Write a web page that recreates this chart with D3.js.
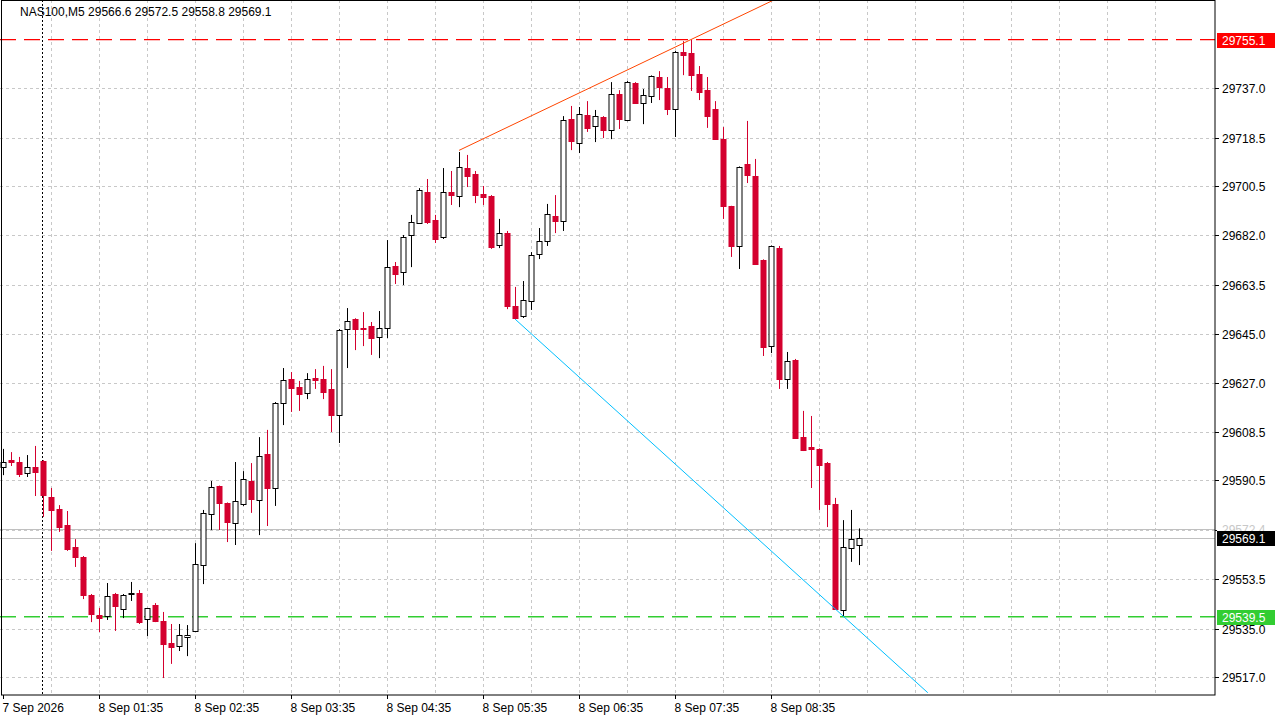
<!DOCTYPE html>
<html>
<head>
<meta charset="utf-8">
<script src="https://cdn.jsdelivr.net/npm/d3@7"></script>
<style>
  body{margin:0;background:#fff;}
  svg{display:block;font-family:"Liberation Sans",Arial,sans-serif;}
</style>
</head>
<body>
<svg id="chart" width="1280" height="720"></svg>
<script>
// OHLC of the M5 candles, oldest first
const opens = [29595.4,29598.0,29597.3,29593.2,29595.4,29597.7,29584.2,29579.7,29573.8,29565.6,
29561.8,29547.6,29540.2,29539.8,29548.0,29542.4,29548.0,29548.4,29538.7,29543.9,
29537.9,29529.7,29528.6,29531.9,29534.2,29558.8,29577.9,29588.3,29582.0,29574.5,
29581.6,29590.2,29583.1,29600.3,29587.6,29619.3,29628.3,29625.3,29623.1,29628.7,
29628.3,29624.6,29614.9,29647.0,29650.7,29647.5,29648.1,29644.0,29647.5,29670.5,
29668.3,29682.1,29686.6,29698.1,29687.7,29681.3,29698.1,29696.7,29707.1,29704.9,
29697.4,29696.7,29678.4,29682.8,29655.6,29651.8,29657.4,29675.0,29679.8,29689.2,
29687.3,29725.4,29716.4,29726.9,29722.8,29726.2,29721.3,29734.7,29725.0,29738.9,
29731.4,29734.0,29741.1,29737.0,29729.1,29750.4,29750.1,29742.2,29736.2,29729.1,
29717.9,29692.9,29678.0,29708.6,29704.1,29672.7,29640.6,29677.2,29628.3,29635.4,
29606.6,29602.9,29602.2,29596.9,29581.6,29542.0,29565.2,29566.6];
const highs = [29602.2,29601.0,29599.2,29599.9,29603.3,29598.0,29587.6,29581.2,29579.0,29568.5,
29562.2,29548.0,29542.8,29552.1,29548.4,29548.0,29552.5,29549.5,29542.8,29544.6,
29541.3,29536.8,29536.8,29536.4,29567.0,29579.4,29590.2,29588.5,29582.2,29597.3,
29593.9,29596.9,29606.6,29609.3,29619.7,29632.4,29630.9,29627.6,29630.5,29632.0,
29633.2,29632.0,29647.0,29654.8,29651.0,29653.3,29649.6,29653.7,29680.2,29672.0,
29682.1,29689.6,29699.6,29703.0,29689.6,29707.1,29706.0,29713.1,29712.0,29706.0,
29700.4,29697.0,29688.1,29683.6,29662.7,29664.9,29675.7,29684.7,29693.7,29697.0,
29726.5,29730.3,29729.9,29732.1,29728.8,29726.5,29739.2,29736.2,29739.6,29739.2,
29736.6,29741.7,29743.3,29741.1,29750.8,29754.5,29755.1,29745.2,29741.1,29732.1,
29722.4,29693.0,29707.7,29724.7,29710.5,29673.0,29678.2,29678.0,29638.4,29635.8,
29616.4,29614.5,29602.4,29597.3,29583.9,29575.6,29579.4,29572.5];
const lows = [29592.4,29595.8,29591.7,29591.7,29584.6,29576.8,29564.1,29571.2,29564.1,29558.1,
29546.1,29537.5,29533.8,29538.3,29534.2,29539.0,29545.4,29536.8,29532.3,29537.5,
29516.6,29521.9,29526.7,29524.8,29533.8,29551.7,29571.9,29571.9,29567.4,29566.3,
29580.9,29578.3,29570.0,29573.4,29580.9,29611.1,29616.0,29616.4,29620.8,29624.6,
29620.8,29608.5,29604.4,29632.4,29639.1,29640.6,29637.3,29636.1,29643.6,29663.8,
29663.4,29670.1,29686.2,29686.2,29679.1,29680.6,29693.3,29692.5,29700.0,29694.0,
29693.3,29676.9,29677.2,29654.4,29650.7,29651.1,29654.1,29673.1,29678.0,29682.8,
29683.6,29713.8,29712.7,29720.6,29716.8,29718.3,29717.9,29721.7,29724.6,29731.2,
29723.5,29731.4,29732.5,29726.9,29718.7,29741.8,29735.9,29732.5,29722.1,29717.7,
29688.1,29673.9,29669.4,29701.5,29670.9,29636.9,29638.0,29624.6,29624.6,29606.1,
29601.4,29587.6,29579.4,29573.0,29542.2,29539.8,29560.0,29558.8];
const closes = [29597.3,29597.3,29592.8,29595.4,29593.6,29585.0,29579.4,29573.0,29564.8,29561.8,
29547.6,29540.5,29539.0,29547.3,29543.5,29547.6,29548.4,29537.5,29542.8,29537.9,
29529.3,29528.2,29532.7,29532.7,29559.2,29578.3,29588.0,29582.0,29574.9,29582.7,
29591.0,29583.5,29599.5,29587.6,29619.3,29627.9,29624.9,29622.7,29628.3,29627.9,
29623.4,29614.9,29646.6,29650.0,29647.0,29647.2,29643.6,29647.5,29670.1,29667.5,
29681.3,29686.9,29698.9,29686.9,29680.6,29698.1,29697.0,29707.5,29704.1,29697.0,
29696.3,29677.6,29682.8,29655.6,29651.1,29657.8,29674.6,29679.8,29689.9,29687.3,
29725.0,29717.2,29727.3,29722.1,29726.5,29721.3,29734.7,29725.4,29739.2,29731.4,
29734.4,29741.5,29737.4,29729.1,29750.4,29749.3,29741.8,29735.5,29726.5,29717.9,
29692.9,29678.0,29707.5,29704.5,29671.3,29640.3,29678.0,29628.3,29635.0,29606.3,
29601.8,29602.2,29596.2,29581.6,29542.4,29565.6,29568.5,29569.1];

const priceTicks = [29517.0,29535.0,29553.5,29572.0,29590.5,29608.5,29627.0,29645.0,29663.5,29682.0,29700.5,29718.5,29737.0];
const timeTickIdx = [0,12,24,36,48,60,72,84,96];
const timeTickLabels = ["7 Sep 2026","8 Sep 01:35","8 Sep 02:35","8 Sep 03:35","8 Sep 04:35","8 Sep 05:35","8 Sep 06:35","8 Sep 07:35","8 Sep 08:35"];
const daySeparatorIdx = 5;
const highLevel = 29755.1, lowLevel = 29539.5;
const bid = 29569.1, ask = 29572.4;
// trend lines: [index, price] anchors
const upTrend = [[57, 29713.7], [86, 29755.1]];
const downTrend = [[64, 29650.7], [105, 29539.8]];

const plotR = 1215, plotB = 695;
const svg = d3.select('#chart');
const x = d3.scaleLinear().domain([0, 107]).range([3, 859]);
const y = d3.scaleLinear().domain([29517, 29737]).range([677, 88]);

svg.append('defs').append('clipPath').attr('id','plot').append('rect')
  .attr('x',0).attr('y',0).attr('width',plotR).attr('height',plotB);
const plot = svg.append('g').attr('clip-path','url(#plot)');

// grid
const vIdx = d3.range(6, 150, 6);
plot.selectAll('.vg').data(vIdx).enter().append('line')
  .attr('x1',d=>x(d)+0.5).attr('x2',d=>x(d)+0.5).attr('y1',0).attr('y2',plotB)
  .attr('stroke','#c8c8c8').attr('stroke-dasharray','3,3');
plot.selectAll('.hg').data(priceTicks).enter().append('line')
  .attr('x1',0).attr('x2',plotR).attr('y1',d=>Math.round(y(d))+0.5).attr('y2',d=>Math.round(y(d))+0.5)
  .attr('stroke','#c8c8c8').attr('stroke-dasharray','3,3');

// day separator
plot.append('line').attr('x1',x(daySeparatorIdx)-0.5).attr('x2',x(daySeparatorIdx)-0.5)
  .attr('y1',0).attr('y2',plotB).attr('stroke','#000').attr('stroke-dasharray','2,2');

// bid / ask
[ask, bid].forEach(p => plot.append('line').attr('x1',0).attr('x2',plotR)
  .attr('y1',Math.round(y(p))+0.5).attr('y2',Math.round(y(p))+0.5).attr('stroke','#c0c0c0'));

// levels
plot.append('line').attr('x1',0).attr('x2',plotR).attr('y1',y(highLevel)).attr('y2',y(highLevel))
  .attr('stroke','#ff0000').attr('stroke-width',1.3).attr('stroke-dasharray','16,8');
plot.append('line').attr('x1',0).attr('x2',plotR).attr('y1',y(lowLevel)).attr('y2',y(lowLevel))
  .attr('stroke','#32cd32').attr('stroke-width',1.3).attr('stroke-dasharray','16,8');

// candles
const candles = opens.map((o,i)=>({i, o, h:highs[i], l:lows[i], c:closes[i]}));
const g = plot.selectAll('.candle').data(candles).enter().append('g');
g.append('line').attr('x1',d=>x(d.i)+0.5).attr('x2',d=>x(d.i)+0.5)
  .attr('y1',d=>y(d.h)).attr('y2',d=>y(d.l))
  .attr('stroke',d=>d.c>=d.o?'#000':'#d4002e');
g.append('rect')
  .attr('x',d=>x(d.i)-2)
  .attr('y',d=>Math.round(y(Math.max(d.o,d.c)))+0.5)
  .attr('width',5)
  .attr('height',d=>Math.max(1,Math.round(Math.abs(y(d.o)-y(d.c)))))
  .attr('fill',d=>d.c>=d.o?'#fff':'#d4002e')
  .attr('stroke',d=>d.c>=d.o?'#000':'#d4002e');

// trend lines
function trend(a, b, toIdx){
  const k = (b[1]-a[1])/(b[0]-a[0]);
  return [x(a[0]), y(a[1]), x(toIdx), y(a[1]+k*(toIdx-a[0]))];
}
const up = trend(upTrend[0], upTrend[1], 100);
plot.append('line').attr('x1',up[0]).attr('y1',up[1]).attr('x2',up[2]).attr('y2',up[3]).attr('stroke','#ff4500');
const dn = trend(downTrend[0], downTrend[1], 115.6);
plot.append('line').attr('x1',dn[0]).attr('y1',dn[1]).attr('x2',dn[2]).attr('y2',dn[3]).attr('stroke','#00bfff');

// frame
svg.append('rect').attr('x',1.5).attr('y',0.5).attr('width',plotR-1.5).attr('height',plotB-0.5)
  .attr('fill','none').attr('stroke','#000');

// price axis
const pa = svg.append('g');
priceTicks.forEach(p=>{
  const yy = Math.round(y(p))+0.5;
  pa.append('line').attr('x1',plotR).attr('x2',plotR+4).attr('y1',yy).attr('y2',yy).attr('stroke','#000');
  pa.append('text').attr('x',1222).attr('y',yy+4).attr('font-size',12).attr('fill','#000').text(p.toFixed(1));
});
function priceLabel(p, bg, fg){
  const yy = Math.round(y(p));
  pa.append('rect').attr('x',plotR+2).attr('y',yy-7).attr('width',58).attr('height',15).attr('fill',bg);
  pa.append('text').attr('x',1222).attr('y',yy+5).attr('font-size',12).attr('fill',fg).text(p.toFixed(1));
}
priceLabel(ask,'#fff','#c8c8c8');
priceLabel(bid,'#000','#fff');
priceLabel(highLevel,'#ff0000','#fff');
priceLabel(lowLevel,'#32cd32','#fff');

// time axis
timeTickIdx.forEach((t,k)=>{
  const xx = x(t)+0.5;
  svg.append('line').attr('x1',xx).attr('x2',xx).attr('y1',plotB).attr('y2',plotB+4).attr('stroke','#000');
  svg.append('text').attr('x',xx-1).attr('y',712).attr('font-size',12).attr('fill','#000').text(timeTickLabels[k]);
});

// title
svg.append('text').attr('x',20).attr('y',16).attr('font-size',12).attr('fill','#000')
  .text('NAS100,M5  29566.6 29572.5 29558.8 29569.1');
</script>
</body>
</html>
